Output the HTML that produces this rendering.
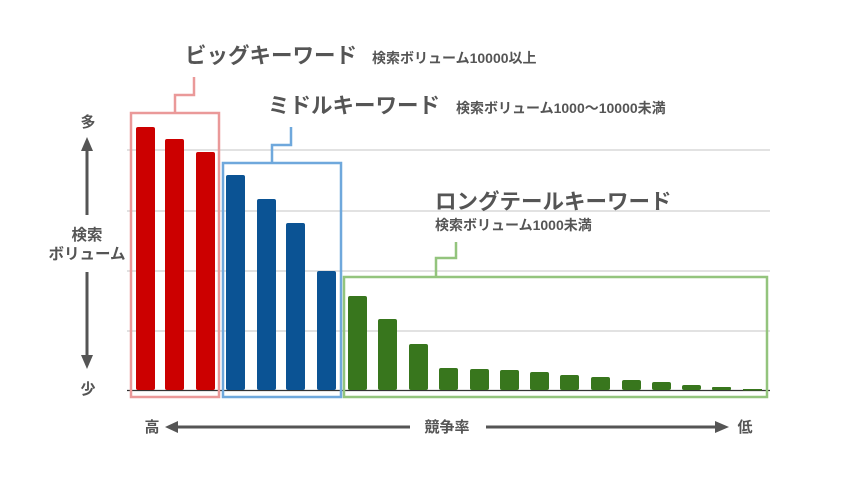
<!DOCTYPE html>
<html><head><meta charset="utf-8"><style>
body{margin:0;background:#fff;}
svg text{font-family:"Liberation Sans","Noto Sans CJK JP",sans-serif;font-weight:bold;fill:#555;}
</style></head><body>
<svg width="853" height="472" viewBox="0 0 853 472" xmlns="http://www.w3.org/2000/svg">
<g stroke="#d0d0d0" stroke-width="1.3">
<line x1="127" y1="150" x2="770" y2="150"/>
<line x1="127" y1="211" x2="770" y2="211"/>
<line x1="127" y1="271" x2="770" y2="271"/>
<line x1="127" y1="331" x2="770" y2="331"/>
</g>
<line x1="127" y1="390.5" x2="770" y2="390.5" stroke="#333" stroke-width="1.2"/>
<g fill="#cc0000">
<rect x="136" y="127" width="19" height="263" rx="2"/>
<rect x="165" y="139" width="19" height="251" rx="2"/>
<rect x="196" y="152" width="19" height="238" rx="2"/>
</g>
<g fill="#0b5394">
<rect x="226" y="175" width="19" height="215" rx="2"/>
<rect x="257" y="199" width="19" height="191" rx="2"/>
<rect x="286" y="223" width="19" height="167" rx="2"/>
<rect x="317" y="271" width="19" height="119" rx="2"/>
</g>
<g fill="#38761d">
<rect x="348" y="296" width="19" height="94" rx="2"/>
<rect x="378" y="319" width="19" height="71" rx="2"/>
<rect x="409" y="344" width="19" height="46" rx="2"/>
<rect x="439" y="368" width="19" height="22" rx="2"/>
<rect x="470" y="369" width="19" height="21" rx="2"/>
<rect x="500" y="370" width="19" height="20" rx="2"/>
<rect x="530" y="372" width="19" height="18" rx="2"/>
<rect x="560" y="375" width="19" height="15" rx="2"/>
<rect x="591" y="377" width="19" height="13" rx="2"/>
<rect x="622" y="380" width="19" height="10" rx="2"/>
<rect x="652" y="382" width="19" height="8" rx="2"/>
<rect x="682" y="385" width="19" height="5" rx="2"/>
<rect x="712" y="387" width="19" height="3" rx="1"/>
<rect x="743" y="389" width="19" height="1.5"/>
</g>
<g fill="none" stroke-width="2.5">
<rect x="131" y="113" width="88" height="284" stroke="#ea9999"/>
<polyline points="175,113 175,95 194,95 194,77" stroke="#ea9999"/>
<rect x="223" y="163" width="118" height="234" stroke="#6fa8dc"/>
<polyline points="272,163 272,145 291,145 291,127" stroke="#6fa8dc"/>
<rect x="344" y="277" width="423" height="120" stroke="#93c47d"/>
<polyline points="436,277 436,258 456,258 456,242" stroke="#93c47d"/>
</g>
<text x="185" y="63" font-size="21.5">ビッグキーワード</text>
<text x="372" y="63" font-size="14">検索ボリューム10000以上</text>
<text x="268" y="113" font-size="21.5">ミドルキーワード</text>
<text x="456" y="113" font-size="14">検索ボリューム1000〜10000未満</text>
<text x="435" y="209" font-size="21.5">ロングテールキーワード</text>
<text x="435" y="230" font-size="14">検索ボリューム1000未満</text>
<g fill="#555" stroke="#555">
<line x1="87" y1="148" x2="87" y2="215" stroke-width="3"/>
<polygon points="81,151 93,151 87,137" stroke="none"/>
<line x1="87" y1="272" x2="87" y2="358" stroke-width="3"/>
<polygon points="81,355 93,355 87,369" stroke="none"/>
<line x1="175" y1="427" x2="410" y2="427" stroke-width="3"/>
<polygon points="178,421 178,433 165,427" stroke="none"/>
<line x1="486" y1="427" x2="718" y2="427" stroke-width="3"/>
<polygon points="715,421 715,433 729,427" stroke="none"/>
</g>
<text x="88" y="127" font-size="15" text-anchor="middle">多</text>
<text x="87" y="240" font-size="15.5" text-anchor="middle">検索</text>
<text x="87" y="259" font-size="15.5" text-anchor="middle">ボリューム</text>
<text x="88" y="394" font-size="15" text-anchor="middle">少</text>
<text x="152" y="432" font-size="15" text-anchor="middle">高</text>
<text x="447" y="432" font-size="15" text-anchor="middle">競争率</text>
<text x="745" y="432" font-size="15" text-anchor="middle">低</text>
</svg>
</body></html>
